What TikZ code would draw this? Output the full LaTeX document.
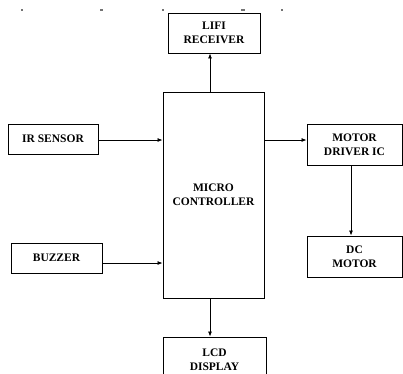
\documentclass[tikz,border=0pt]{standalone}
\usepackage{fontspec}
\setmainfont{Liberation Serif}
\usetikzlibrary{arrows.meta,positioning}

\begin{document}
\begin{tikzpicture}[x=1pt,y=-1pt,>={Latex[length=5pt,width=4pt]},
  blk/.style={draw,line width=0.9pt,fill=white,align=center,inner sep=0pt,
    font=\fontsize{11.5}{14}\selectfont\bfseries}]
  \clip (0,0) rectangle (403,373);
  \fill[white] (0,0) rectangle (403,373);
  % cut-off marks along the top edge
  \foreach \mx/\mw in {22/2,101/3,163/2,243/4,282/2}
    \fill[black!55] (\mx-\mw/2,9) rectangle (\mx+\mw/2,11);
  % blocks
  \node[blk,minimum width=92pt,minimum height=40pt] (lifi) at (214,33) {LIFI\\RECEIVER};
  \node[blk,minimum width=101pt,minimum height=206pt] (mcu) at (213.5,195) {MICRO\\CONTROLLER};
  \node[blk,minimum width=90pt,minimum height=30pt] (ir) at (53,139) {IR SENSOR};
  \node[blk,minimum width=91pt,minimum height=30pt] (buz) at (56.5,258) {BUZZER};
  \node[blk,minimum width=95pt,minimum height=41pt] (drv) at (354.5,144.5) {MOTOR\\DRIVER IC};
  \node[blk,minimum width=95pt,minimum height=41pt] (dc) at (354.5,256.5) {DC\\MOTOR};
  \node[blk,minimum width=103pt,minimum height=46pt] (lcd) at (214.5,360) {LCD\\DISPLAY};
  % connections
  \draw[->,line width=0.8pt] ([yshift=-1pt]ir.east) -- ([yshift=-1pt]ir.east -| mcu.west);
  \draw[->,line width=0.8pt] ([yshift=-5pt]buz.east) -- ([yshift=-5pt]buz.east -| mcu.west);
  \draw[->,line width=0.8pt] ([yshift=-1pt]ir.east -| mcu.east) -- ([yshift=-1pt]ir.east -| drv.west);
  \draw[->,line width=0.8pt] ([xshift=-3.5pt]drv.south) -- ([xshift=-3.5pt]dc.north);
  \draw[->,line width=0.8pt] ([xshift=-3.5pt]mcu.north) -- ([xshift=-3.5pt]mcu.north |- lifi.south);
  \draw[->,line width=0.8pt] ([xshift=-3.5pt]mcu.south) -- ([xshift=-3.5pt]mcu.south |- lcd.north);
\end{tikzpicture}
\end{document}
